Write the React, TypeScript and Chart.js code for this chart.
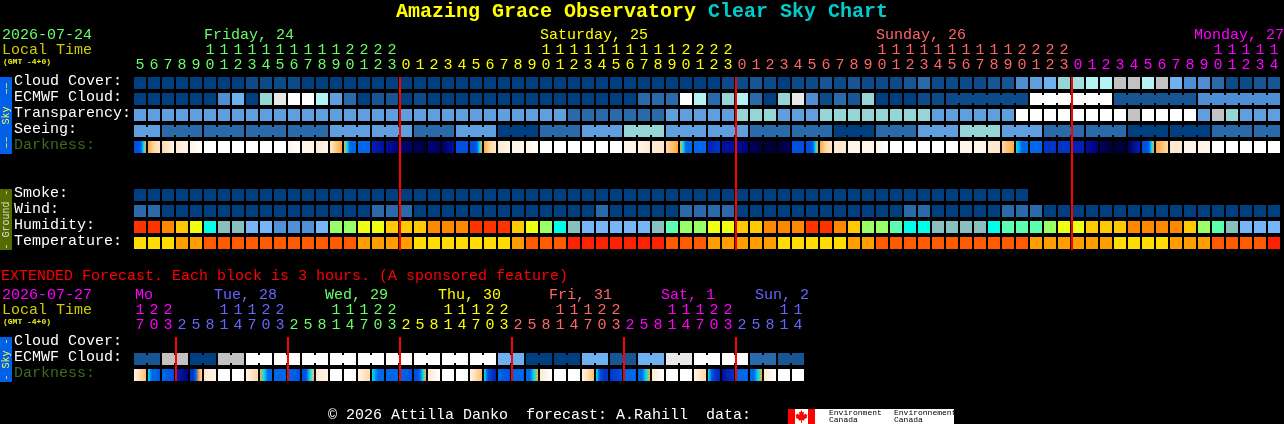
import React, { useEffect, useRef } from "react";
import { Chart, registerables } from "chart.js";

Chart.register(...registerables);

// ---------- data: main chart (one column per hour) ----------
const hoursMain = [5,6,7,8,9,10,11,12,13,14,15,16,17,18,19,20,21,22,23,
  0,1,2,3,4,5,6,7,8,9,10,11,12,13,14,15,16,17,18,19,20,21,22,23,
  0,1,2,3,4,5,6,7,8,9,10,11,12,13,14,15,16,17,18,19,20,21,22,23,
  0,1,2,3,4,5,6,7,8,9,10,11,12,13,14];
const rowsMain = ["Cloud Cover:","ECMWF Cloud:","Transparency:","Seeing:","Darkness:"," ","  ","Smoke:","Wind:","Humidity:","Temperature:"];
const dayNamesMain = ["Friday, 24","Saturday, 25","Sunday, 26","Monday, 27"];

const skyPalette = ["#003f7f","#0c4a8a","#175595","#2a69aa","#4f8ed2","#5f9fdf","#6fb0f0","#96d5d5","#a3e1e1","#b3f3f3","#c2c2c2","#e8e8e8","#ffffff"];
const cloudCover = [0,0,0,0,0,0,0,0,1,1,1,1,0,0,0,0,0,0,0,0,0,0,0,0,0,0,0,0,0,0,0,0,0,0,0,0,0,0,0,0,0,0,1,1,2,1,0,1,1,2,1,2,1,1,1,2,3,1,1,1,1,2,2,4,5,6,7,8,9,9,10,10,9,10,6,4,4,3,1,1,2,2];
const ecmwfCloud = [0,0,0,0,0,0,4,6,0,7,11,12,12,9,5,3,0,2,2,0,1,0,0,0,0,0,0,0,0,0,0,0,0,0,0,0,3,3,3,12,9,3,7,9,3,0,7,11,4,1,3,2,7,0,0,0,1,1,1,1,1,1,1,1,12,12,12,12,12,12,2,2,2,2,2,2,4,4,4,4,4,4];
const transparency = [5,5,5,5,5,5,5,5,5,5,5,5,5,5,5,5,5,5,5,5,5,5,5,5,5,5,5,5,5,5,5,3,3,3,3,3,3,3,5,5,5,5,5,7,7,7,5,5,5,7,7,7,7,7,7,7,7,5,5,5,5,5,5,12,12,12,12,12,12,12,12,10,12,12,12,12,5,10,7,5,5,5];
const seeing = [5,5,3,3,3,3,3,3,3,3,3,3,3,3,5,5,5,5,5,5,3,3,3,5,5,5,0,0,0,3,3,3,5,5,5,7,7,7,5,5,5,5,5,5,3,3,3,3,3,3,0,0,0,3,3,3,5,5,5,7,7,7,5,5,5,3,3,3,3,3,3,0,0,0,0,0,0,3,3,3,3,3];
const smoke = [0,0,0,0,0,0,0,0,0,0,0,0,0,0,0,0,0,0,0,0,0,0,0,0,0,0,0,0,0,0,0,0,0,0,0,0,0,0,0,0,0,0,0,0,0,0,0,0,0,0,0,0,0,0,0,0,0,0,0,0,0,0,0,0];
const wind = [3,3,0,0,0,0,0,0,0,0,0,0,0,0,0,0,0,3,3,3,0,0,0,0,0,0,0,0,0,0,0,0,0,3,0,0,0,0,0,3,3,3,3,0,0,0,0,0,0,0,0,0,0,0,0,3,3,0,0,0,0,0,3,3,3,0,0,0,0,0,0,0,0,0,0,0,0,0,0,0,0,0];

const humidityPalette = ["#ff3300","#ff8800","#ffc800","#eeff11","#99ff66","#5cffb0","#00ffe8","#88c0c0","#78b5f8","#5090d8"];
const humidity = [0,0,1,2,3,6,7,7,8,8,9,9,9,8,4,4,3,3,2,2,2,1,1,1,0,0,0,2,3,4,6,7,8,8,8,8,8,7,5,4,4,3,3,2,2,1,1,1,0,0,1,2,4,4,5,6,6,7,7,7,7,6,5,5,5,4,3,3,2,2,2,1,1,1,1,2,4,5,7,8,8,8];
const temperaturePalette = ["#ffdd00","#ff9d00","#ff5a00","#ff2000"];
const temperature = [0,0,0,1,1,2,2,2,2,2,2,2,2,2,2,2,1,1,1,1,0,0,0,0,0,0,0,1,2,2,2,3,3,3,3,3,3,3,2,2,2,1,1,1,1,1,0,0,0,0,0,1,1,2,2,2,2,2,2,2,2,2,2,2,1,1,1,1,1,1,0,0,0,0,1,1,1,2,2,2,2,3];

const darkPalette = ["#000038","#000060","#00007c","#000f9c","#0020b8","#0035c8","#0050e0","#0068e8","#00e0f0","#ffa838","#ffc070","#ffd8a8","#ffe8d0","#fff4e8","#ffffff"];
const darknessMain = [
  [6,6,6,7,8,9],[9,11,12],[11,13],[12,13],[13,14],[14],[14],[14],[14],[14],[14],[13,14],[13],[12,13],[12,9],[9,8,7,7,7],[7],[4,3],[3,2],[2,1],[1,0],
  [2,1],[1,3],[6],[6,6,6,7,8,9],[9,11,12],[12,13],[13],[13,14],[14],[14],[14],[14],[14],[14],[13],[13,12],[12],[11,9],[9,8,7,7,7],[7],[4,5],[3,3],[3,2],[1,0],[0],[0,1],[6],[6,6,6,7,8,9],[9,11,12],[12],[13],
  [13],[13,14],[14],[14],[14],[14],[14],[13],[13],[12],[11,9],[8,7,7],[7],[5],[5],[4],[3,2],[1,0],[0],[1,4],[6,6,6,7,8,9],[9,11],[12],[13],[13],[14],[14],[14],[14],[14],
];

// ---------- data: extended chart ----------
const hoursExt = [17,20,23,2,5,8,11,14,17,20,23,2,5,8,11,14,17,20,23,2,5,8,11,14,17,20,23,2,5,8,11,14,17,20,23,2,5,8,11,14,17,20,23,2,5,8,11,14];
const rowsExt = ["Cloud Cover:","ECMWF Cloud:","Darkness:"];
const dayNamesExt = ["Mo","Tue, 28","Wed, 29","Thu, 30","Fri, 31","Sat, 1","Sun, 2"];
const ecmwfExt = [2,10,0,10,12,12,12,12,12,12,12,12,12,6,0,0,6,2,6,11,12,12,3,2];
const darknessExt = [
  [13,10],[8,7,7,6],[7,6],[4,3,2],[5,5,7,9,11],[12,13],[14],[14],[13,11],[9,8,7,7],[7],[7,6],[6,6,8,10],[12,13],[14],[14],[13,11],[8,7,7],[7],[7,6],[6,6,7,8,9],[12,14],[14],[14],
  [13,10],[8,6,5,4],[7,6],[7],[7,7,8,9],[12,14],[14],[14],[13,10],[8,6,5,5],[5,6],[7],[7,7,8,9],[12,14],[14],[14],[13,11],[8,6,5,4],[3,5],[7],[7,7,8,9],[12,14],[14],[14],
];

// ---------- appearance ----------
const MONO = '"Liberation Mono", monospace';
const GREEN = "#66ff66", YELLOW = "#ffff00", SALMON = "#ff6666", MAGENTA = "#ff00ff", PERIWINKLE = "#6666ff";
const dayColorsMain = [GREEN, YELLOW, SALMON, MAGENTA];
const dayColorsExt = [MAGENTA, PERIWINKLE, GREEN, YELLOW, SALMON, MAGENTA, PERIWINKLE];

function dayIndexes(hours: number[]) {
  let d = 0;
  return hours.map((h, i) => {
    if (i > 0 && h < hours[i - 1]) d++;
    return d;
  });
}

type Cell = { x: [number, number]; y: string };
const GAP = 1 / 14;
const cell = (i: number, y: string): Cell => ({ x: [i + GAP, i + 1 - GAP], y });
const bridge = (i: number, y: string): Cell => ({ x: [i + 1 - GAP - 0.01, i + 1 + GAP + 0.01], y });

function levelRow(label: string, values: number[], palette: string[]) {
  const cols = values.map((_, i) => i);
  return {
    label,
    barThickness: 12,
    backgroundColor: cols.map((i) => palette[values[i]]),
    data: cols.map((i) => cell(i, label)),
  };
}

// rows whose neighbouring cells are joined by a narrower bridge
function bridges(label: string, values: number[], palette: string[], joined: (i: number) => boolean) {
  const cols = values.map((_, i) => i).filter((i) => i < values.length - 1 && joined(i));
  return {
    label: label + " join",
    barThickness: 8,
    backgroundColor: cols.map((i) => palette[values[i]]),
    data: cols.map((i) => bridge(i, label)),
  };
}

function gradientRow(label: string, stops: number[][]) {
  return {
    label,
    barThickness: 12,
    data: stops.map((_, i) => cell(i, label)),
    backgroundColor: (c: any) => {
      const st = stops[c.dataIndex];
      if (!st) return "#000";
      if (st.length === 1) return darkPalette[st[0]];
      const xs = c.chart.scales.x;
      const x0 = xs ? xs.getPixelForValue(c.dataIndex + GAP) : NaN;
      const x1 = xs ? xs.getPixelForValue(c.dataIndex + 1 - GAP) : NaN;
      if (!Number.isFinite(x0) || !Number.isFinite(x1)) return darkPalette[st[0]];
      const g = c.chart.ctx.createLinearGradient(x0, 0, x1, 0);
      st.forEach((s, k) => g.addColorStop(k / (st.length - 1), darkPalette[s]));
      return g;
    },
  };
}

function put(ctx: CanvasRenderingContext2D, s: string, x: number, y: number, font: string, color: string) {
  ctx.font = font;
  ctx.fillStyle = color;
  ctx.textAlign = "left";
  ctx.textBaseline = "middle";
  ctx.fillText(s, x, y);
}

function band(ctx: CanvasRenderingContext2D, top: number, bottom: number, fill: string, label: string, color: string) {
  ctx.fillStyle = fill;
  ctx.fillRect(0, top, 12, bottom - top);
  ctx.save();
  ctx.translate(6, (top + bottom) / 2);
  ctx.rotate(-Math.PI / 2);
  ctx.font = `10px ${MONO}`;
  ctx.fillStyle = color;
  ctx.textAlign = "center";
  ctx.textBaseline = "middle";
  ctx.fillText(label, 0, 0);
  ctx.restore();
}

function redLines(chart: any, cols: number[], top: number, bottom: number) {
  const { ctx, scales } = chart;
  ctx.fillStyle = "#ff0000";
  cols.forEach((c) => {
    const x = scales.x.getPixelForValue(c);
    ctx.fillRect(x, top, 2, bottom - top);
  });
}

function maple(ctx: CanvasRenderingContext2D, cx: number, cy: number) {
  const pts = [[0,-6],[1.3,-3.6],[2.6,-4.2],[2,-1],[4,-2.6],[4.6,-1.2],[6,-1.4],[5.2,1],[5.8,1.6],[2.6,3.6],[3,4.6],[0.4,4.2],[0.4,7],[-0.4,7],[-0.4,4.2],[-3,4.6],[-2.6,3.6],[-5.8,1.6],[-5.2,1],[-6,-1.4],[-4.6,-1.2],[-4,-2.6],[-2,-1],[-2.6,-4.2],[-1.3,-3.6]];
  ctx.fillStyle = "#ff0000";
  ctx.beginPath();
  pts.forEach(([x, y], i) => (i ? ctx.lineTo(cx + x, cy + y) : ctx.moveTo(cx + x, cy + y)));
  ctx.closePath();
  ctx.fill();
}

const F15 = `15px ${MONO}`;
const GMT_FONT = `bold 8px ${MONO}`;

const mainOverlay = {
  id: "mainOverlay",
  afterDatasetsDraw(chart: any) {
    redLines(chart, [19, 43, 67], 77, 250);
  },
  afterDraw(chart: any) {
    const ctx = chart.ctx;
    ctx.save();
    put(ctx, "Amazing Grace Observatory", 396, 12, `bold 20px ${MONO}`, "#ffff00");
    put(ctx, "Clear Sky Chart", 708, 12, `bold 20px ${MONO}`, "#00cccc");
    put(ctx, "2026-07-24", 2, 35, F15, GREEN);
    put(ctx, "Local Time", 2, 50, F15, "#cccc00");
    put(ctx, "(GMT -4+0)", 3, 62, GMT_FONT, "#eeee22");
    const xs = [204, 540, 876, 1194];
    dayNamesMain.forEach((d, i) => put(ctx, d, xs[i], 35, F15, dayColorsMain[i]));
    band(ctx, 77, 154, "#0060e8", "\u2013\u2013  Sky  \u2013\u2013", "#ffff40");
    band(ctx, 189, 250, "#556b00", "- Ground -", "#dddddd");
    ctx.restore();
  },
};

const extOverlay = {
  id: "extOverlay",
  afterDatasetsDraw(chart: any) {
    redLines(chart, [3, 11, 19, 27, 35, 43], 73, 117);
  },
  afterDraw(chart: any) {
    const ctx = chart.ctx;
    ctx.save();
    put(ctx, "EXTENDED Forecast. Each block is 3 hours. (A sponsored feature)", 1, 12, F15, "#ff0000");
    put(ctx, "2026-07-27", 2, 31, F15, MAGENTA);
    put(ctx, "Local Time", 2, 46, F15, "#cccc00");
    put(ctx, "(GMT -4+0)", 3, 58, GMT_FONT, "#eeee22");
    const xs = [135, 214, 325, 438, 549, 661, 755];
    dayNamesExt.forEach((d, i) => put(ctx, d, xs[i], 31, F15, dayColorsExt[i]));
    band(ctx, 73, 118, "#0060e8", "- Sky -", "#ffff40");
    put(ctx, "\u00a9 2026 Attilla Danko  forecast: A.Rahill  data:", 328, 151, F15, "#ffffff");
    // Environment Canada signature
    ctx.fillStyle = "#ffffff";
    ctx.fillRect(788, 145, 166, 15);
    ctx.fillStyle = "#ff0000";
    ctx.fillRect(788, 145, 7, 15);
    ctx.fillRect(808, 145, 7, 15);
    maple(ctx, 801.5, 152);
    const small = `8px ${MONO}`;
    put(ctx, "Environment", 829, 149, small, "#000000");
    put(ctx, "Canada", 829, 156, small, "#000000");
    put(ctx, "Environnement", 894, 149, small, "#000000");
    put(ctx, "Canada", 894, 156, small, "#000000");
    ctx.restore();
  },
};

function buildChart(
  canvas: HTMLCanvasElement,
  opts: { hours: number[]; dayColors: string[]; rows: string[]; datasets: any[]; padding: any; overlay: any; dim: string }
) {
  const days = dayIndexes(opts.hours);
  const colTicks = opts.hours.map((_, i) => ({ value: i + 0.5 }));
  const colOf = (v: number) => Math.floor(v);
  const colColor = (c: any) => opts.dayColors[days[colOf(c.tick.value)]];
  const base = {
    type: "linear",
    position: "top",
    min: 0,
    max: opts.hours.length,
    grid: { display: false, drawTicks: false },
    border: { display: false },
    afterBuildTicks: (s: any) => { s.ticks = colTicks.map((t) => ({ ...t })); },
  };
  const tickBase = {
    autoSkip: false,
    maxRotation: 0,
    minRotation: 0,
    font: { family: MONO, size: 15, lineHeight: 16 / 15 },
    color: colColor,
  };
  return new Chart(canvas, {
    type: "bar",
    data: { labels: opts.rows, datasets: opts.datasets },
    plugins: [opts.overlay],
    options: {
      indexAxis: "y",
      responsive: false,
      animation: false,
      devicePixelRatio: 1,
      events: [],
      layout: { padding: opts.padding },
      datasets: { bar: { grouped: false, borderSkipped: false, borderWidth: 0, inflateAmount: 0 } },
      plugins: { legend: { display: false }, tooltip: { enabled: false }, title: { display: false } },
      scales: {
        x: {
          ...base,
          weight: 0,
          afterFit: (s: any) => { s.height = 18; },
          ticks: { ...tickBase, padding: 2, callback: (v: number) => String(opts.hours[colOf(v)] % 10) },
        },
        xTens: {
          ...base,
          weight: 1,
          afterFit: (s: any) => { s.height = 16; },
          ticks: {
            ...tickBase,
            padding: -1,
            callback: (v: number) => {
              const h = opts.hours[colOf(v)];
              return h >= 10 ? String(Math.floor(h / 10)) : "";
            },
          },
        },
        y: {
          type: "category",
          position: "left",
          offset: true,
          labels: opts.rows,
          grid: { display: false, drawTicks: false },
          border: { display: false },
          afterFit: (s: any) => { s.width = 119; },
          ticks: {
            autoSkip: false,
            crossAlign: "far",
            padding: 0,
            // the blank second line lifts each label a little above its row centre
            font: { family: MONO, size: 15, lineHeight: 0.2 },
            callback: (_: any, i: number) => [opts.rows[i], " "],
            color: (c: any) => (opts.rows[c.index] === "Darkness:" ? opts.dim : "#ffffff"),
          },
        },
      },
    },
  } as any);
}

export default function App() {
  const topRef = useRef<HTMLCanvasElement>(null);
  const bottomRef = useRef<HTMLCanvasElement>(null);

  useEffect(() => {
    document.body.style.margin = "0";
    document.body.style.background = "#000";
    document.body.style.overflow = "hidden";

    const seeingJoined = (i: number) => (i - 1) % 3 !== 0;
    const ecmwfJoined = (i: number) => i >= 58 && i !== 63 && i !== 69 && i !== 75;

    const main = buildChart(topRef.current!, {
      hours: hoursMain,
      dayColors: dayColorsMain,
      rows: rowsMain,
      dim: "#3d6b1e",
      padding: { top: 41, left: 14, right: 3, bottom: 13 },
      overlay: mainOverlay,
      datasets: [
        levelRow(rowsMain[0], cloudCover, skyPalette),
        levelRow(rowsMain[1], ecmwfCloud, skyPalette),
        bridges(rowsMain[1], ecmwfCloud, skyPalette, ecmwfJoined),
        levelRow(rowsMain[2], transparency, skyPalette),
        levelRow(rowsMain[3], seeing, skyPalette),
        bridges(rowsMain[3], seeing, skyPalette, seeingJoined),
        gradientRow(rowsMain[4], darknessMain),
        levelRow(rowsMain[7], smoke, skyPalette),
        levelRow(rowsMain[8], wind, skyPalette),
        levelRow(rowsMain[9], humidity, humidityPalette),
        levelRow(rowsMain[10], temperature, temperaturePalette),
      ],
    });

    // extended ECMWF: one value per block, each block spans two columns
    const extCols = hoursExt.map((_, i) => i);
    const ext = buildChart(bottomRef.current!, {
      hours: hoursExt,
      dayColors: dayColorsExt,
      rows: rowsExt,
      dim: "#3d6b1e",
      padding: { top: 37, left: 14, right: 479, bottom: 41 },
      overlay: extOverlay,
      datasets: [
        {
          label: rowsExt[1],
          barThickness: 12,
          backgroundColor: extCols.map((i) => skyPalette[ecmwfExt[Math.floor(i / 2)]]),
          data: extCols.map((i) => cell(i, rowsExt[1])),
        },
        {
          label: rowsExt[1] + " join",
          barThickness: 8,
          backgroundColor: ecmwfExt.map((v) => skyPalette[v]),
          data: ecmwfExt.map((_, k) => bridge(k * 2, rowsExt[1])),
        },
        gradientRow(rowsExt[2], darknessExt),
      ],
    });

    return () => {
      main.destroy();
      ext.destroy();
    };
  }, []);

  return (
    <div style={{ width: 1284, height: 424, background: "#000", overflow: "hidden" }}>
      <canvas ref={topRef} width={1284} height={264} style={{ display: "block", width: 1284, height: 264 }} />
      <canvas ref={bottomRef} width={1284} height={160} style={{ display: "block", width: 1284, height: 160 }} />
    </div>
  );
}
